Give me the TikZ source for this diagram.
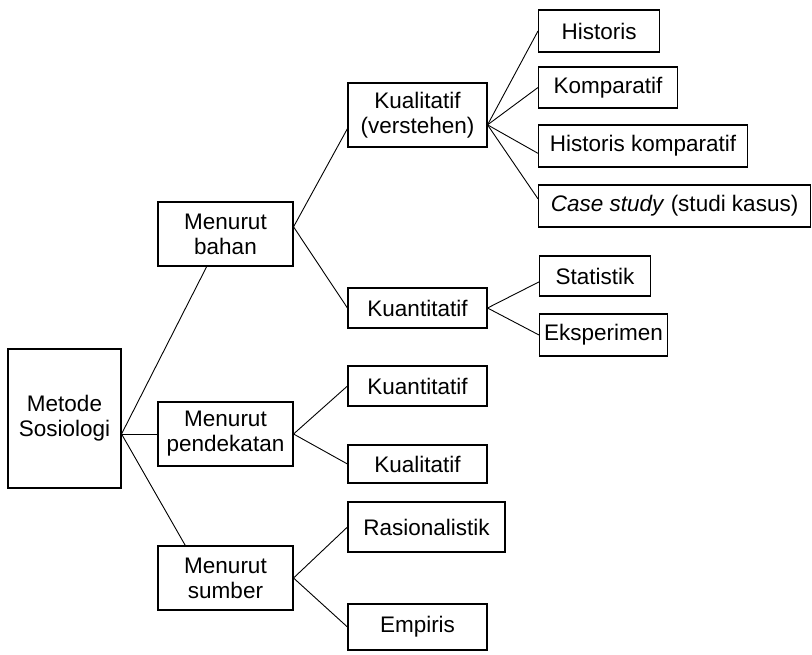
\documentclass[tikz,border=0pt]{standalone}
\usepackage{fontspec}
\setmainfont{Liberation Sans}

\begin{document}
\begin{tikzpicture}[x=1pt, y=-1pt,
  every node/.style = {shape=rectangle, draw, line width=1.1pt, align=center,
    inner sep=0pt, minimum width=139pt, minimum height=40pt,
    font=\fontsize{22.5}{25}\selectfont},
  menurut/.style = {minimum width=135pt, minimum height=64pt},
  leaf/.style = {anchor=west, minimum height=42pt},
  link/.style = {line width=0.9pt}]

\useasboundingbox (0,0) rectangle (812,654);

\node (root) at (64.5,418.5) [minimum width=113pt, minimum height=139pt] {Metode\\Sosiologi};

\node (bahan) at (225.5,234) [menurut] {Menurut\\bahan};
\node (pend) at (225.5,434) [menurut] {Menurut\\pendekatan};
\node (sumber) at (225.5,578) [menurut] {Menurut\\sumber};

\node (kual) at (417.5,115) [minimum height=64pt] {Kualitatif\\(verstehen)};
\node (kuan) at (417.5,308) {Kuantitatif};
\node (kuanb) at (417.5,386) {Kuantitatif};
\node (kualb) at (417.5,464) [minimum height=38pt] {Kualitatif};
\node (rasio) at (426.5,527) [minimum width=157pt, minimum height=50pt] {Rasionalistik};
\node (empiris) at (417.5,627) [minimum height=46pt] {Empiris};

\node (hist) at (538,31) [leaf, minimum width=121pt] {Historis};
\node (komp) at (538,87.5) [leaf, minimum height=41pt] {Komparatif};
\node (histkomp) at (538,146) [leaf, minimum width=209pt] {Historis komparatif};
\node (kasus) at (538,206) [leaf, minimum width=272pt] {\textit{Case study} (studi kasus)};
\node (stat) at (539,276) [leaf, minimum width=111pt, minimum height=40pt] {Statistik};
\node (eksp) at (539,335) [leaf, minimum width=128pt] {Eksperimen};

\draw[link] (root.east |- pend.west) edge (bahan.240) edge (pend.west) edge (sumber.141);
\draw[link] (bahan.6) edge (kual.191) edge (kuan.west);
\draw[link] (kual.-8) edge (hist.west) edge (komp.west) edge (histkomp.184) edge (kasus.177);
\draw[link] (kuan.east) edge (stat.186) edge (eksp.west);
\draw[link] (pend.east) edge (kuanb.west) edge (kualb.west);
\draw[link] (sumber.east) edge (rasio.west) edge (empiris.west);
\end{tikzpicture}
\end{document}
